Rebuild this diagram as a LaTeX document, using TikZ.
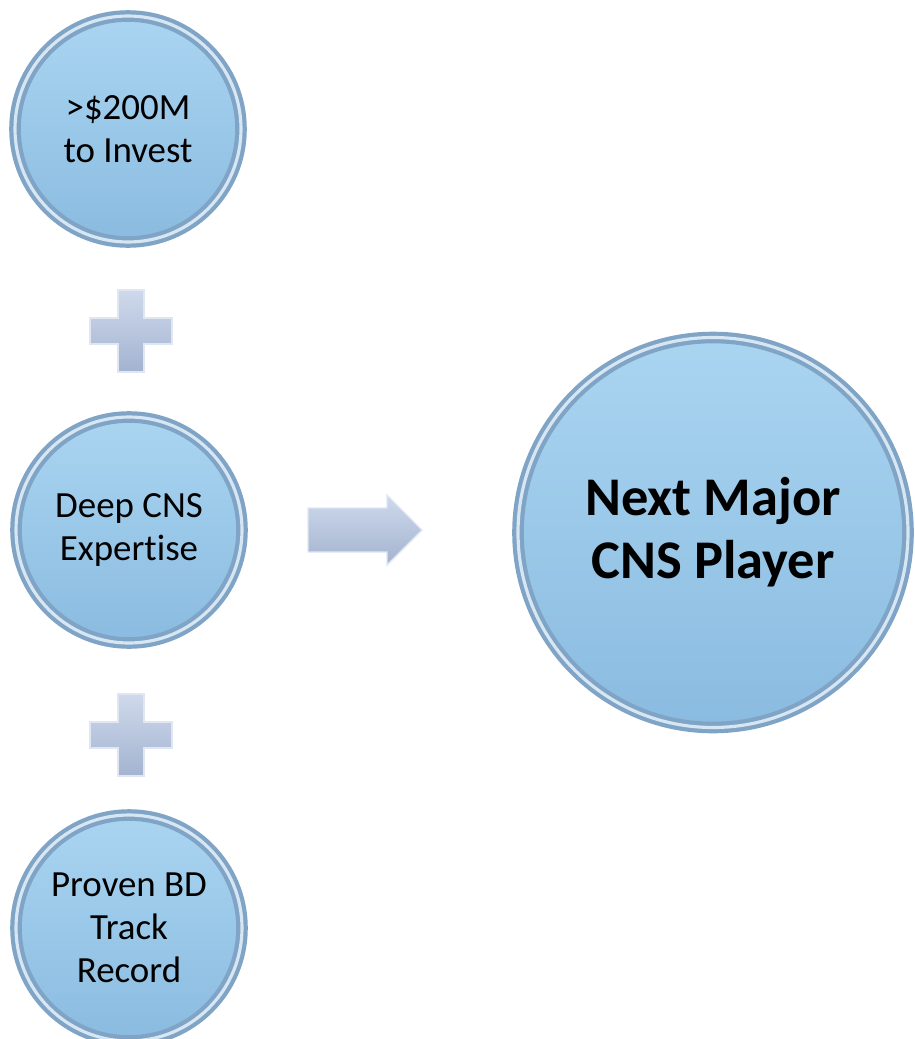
\documentclass[tikz,border=0pt]{standalone}
\usepackage{fontspec}
\setmainfont{Carlito}[Ligatures={NoCommon}]
\usepackage{xcolor}
\usetikzlibrary{calc}

\definecolor{discTop}{RGB}{170,213,241}
\definecolor{discBot}{RGB}{138,187,224}
\definecolor{discRim}{RGB}{128,164,198}
\definecolor{rimLight}{RGB}{214,230,242}
\definecolor{shapeTop}{RGB}{206,217,235}
\definecolor{shapeBot}{RGB}{163,179,208}
\definecolor{shapeEdge}{RGB}{224,231,242}

\tikzset{
    disc/.style={circle, top color=discTop, bottom color=discBot,
        draw=discRim, line width=2.4pt, double=rimLight, double distance=1.8pt,
        align=center, inner sep=0pt, text=black},
    small disc/.style={disc, minimum size=4.52cm, font=\fontsize{21}{24.5}\selectfont},
    big disc/.style={disc, minimum size=7.8cm, font=\fontsize{31}{36}\selectfont\bfseries},
    block/.style={top color=shapeTop, bottom color=shapeBot, draw=shapeEdge, line width=0.8pt, line join=miter}
}

\begin{document}
\begin{tikzpicture}
    \useasboundingbox (0,0) rectangle (18.3,-20.78);

    % Inputs
    \node[small disc] (invest)    at (2.56,-2.58)  {>\$200M\\to Invest};
    \node[small disc] (expertise) at (2.58,-10.6)  {Deep CNS\\Expertise};
    \node[small disc] (record)    at (2.58,-18.56) {Proven BD\\Track\\Record};

    % Result
    \node[big disc] (player) at (14.26,-10.65) {Next Major\\CNS Player};

    % Plus signs
    \coordinate (plusA) at (2.62,-6.62);
    \coordinate (plusB) at (2.62,-14.7);
    \foreach \p in {plusA,plusB}{
        \begin{scope}[shift={(\p)}]
            \draw[block] (-0.26,0.82) -- (0.26,0.82) -- (0.26,0.26) -- (0.82,0.26)
                -- (0.82,-0.26) -- (0.26,-0.26) -- (0.26,-0.82) -- (-0.26,-0.82)
                -- (-0.26,-0.26) -- (-0.82,-0.26) -- (-0.82,0.26) -- (-0.26,0.26) -- cycle;
        \end{scope}
    }

    % Arrow
    \coordinate (arrowtail) at ($(expertise.center)+(3.58,0)$);
    \begin{scope}[shift={(arrowtail)}]
        \draw[block] (0,0.44) -- (1.58,0.44) -- (1.58,0.7) -- (2.28,0)
            -- (1.58,-0.7) -- (1.58,-0.44) -- (0,-0.44) -- cycle;
    \end{scope}
\end{tikzpicture}
\end{document}
